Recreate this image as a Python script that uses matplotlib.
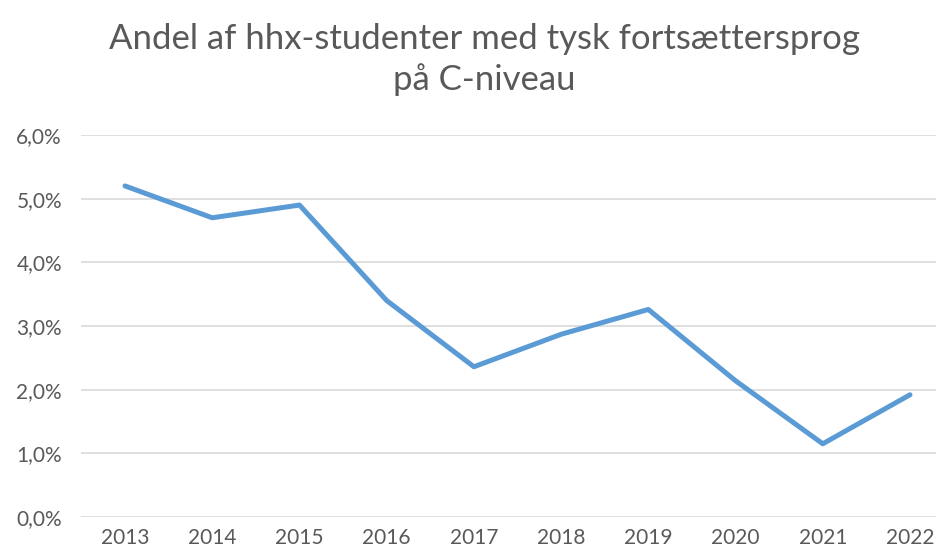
import matplotlib
matplotlib.use("Agg")
import matplotlib.pyplot as plt
from matplotlib.ticker import FuncFormatter

years = ["2013", "2014", "2015", "2016", "2017", "2018", "2019", "2020", "2021", "2022"]
andel = [0.052, 0.047, 0.049, 0.034, 0.0236, 0.0287, 0.0326, 0.0214, 0.0115, 0.0192]

plt.rcParams["font.family"] = ["Lato", "DejaVu Sans"]

fig = plt.figure(figsize=(9.37, 5.57), dpi=100, facecolor="white")
ax = fig.add_axes([0.0869, 0.0718, 0.9308, 0.6858])

x = range(len(years))
ax.plot(x, andel, color="#5B9BD5", linewidth=3.6, solid_capstyle="round",
        solid_joinstyle="round", zorder=3)

ax.set_xlim(-0.5, len(years) - 0.5)
ax.set_ylim(0, 0.06)
ax.set_yticks([i / 100 for i in range(7)])
ax.yaxis.set_major_formatter(FuncFormatter(lambda v, p: f"{v*100:.1f}%".replace(".", ",")))
ax.set_xticks(list(x))
ax.set_xticklabels(years)

ax.grid(axis="y", color="#D9D9D9", linewidth=1.2)
ax.set_axisbelow(True)
for s in ax.spines.values():
    s.set_visible(False)
ax.tick_params(axis="both", length=0, colors="#595959", labelsize=15)
ax.tick_params(axis="y", pad=14)
ax.tick_params(axis="x", pad=8)

fig.text(0.517, 0.893, "Andel af hhx-studenter med tysk fortsættersprog\npå C-niveau",
         ha="center", va="center", fontsize=25, color="#595959", linespacing=1.32)

fig.savefig("out.png", dpi=100, facecolor="white")
